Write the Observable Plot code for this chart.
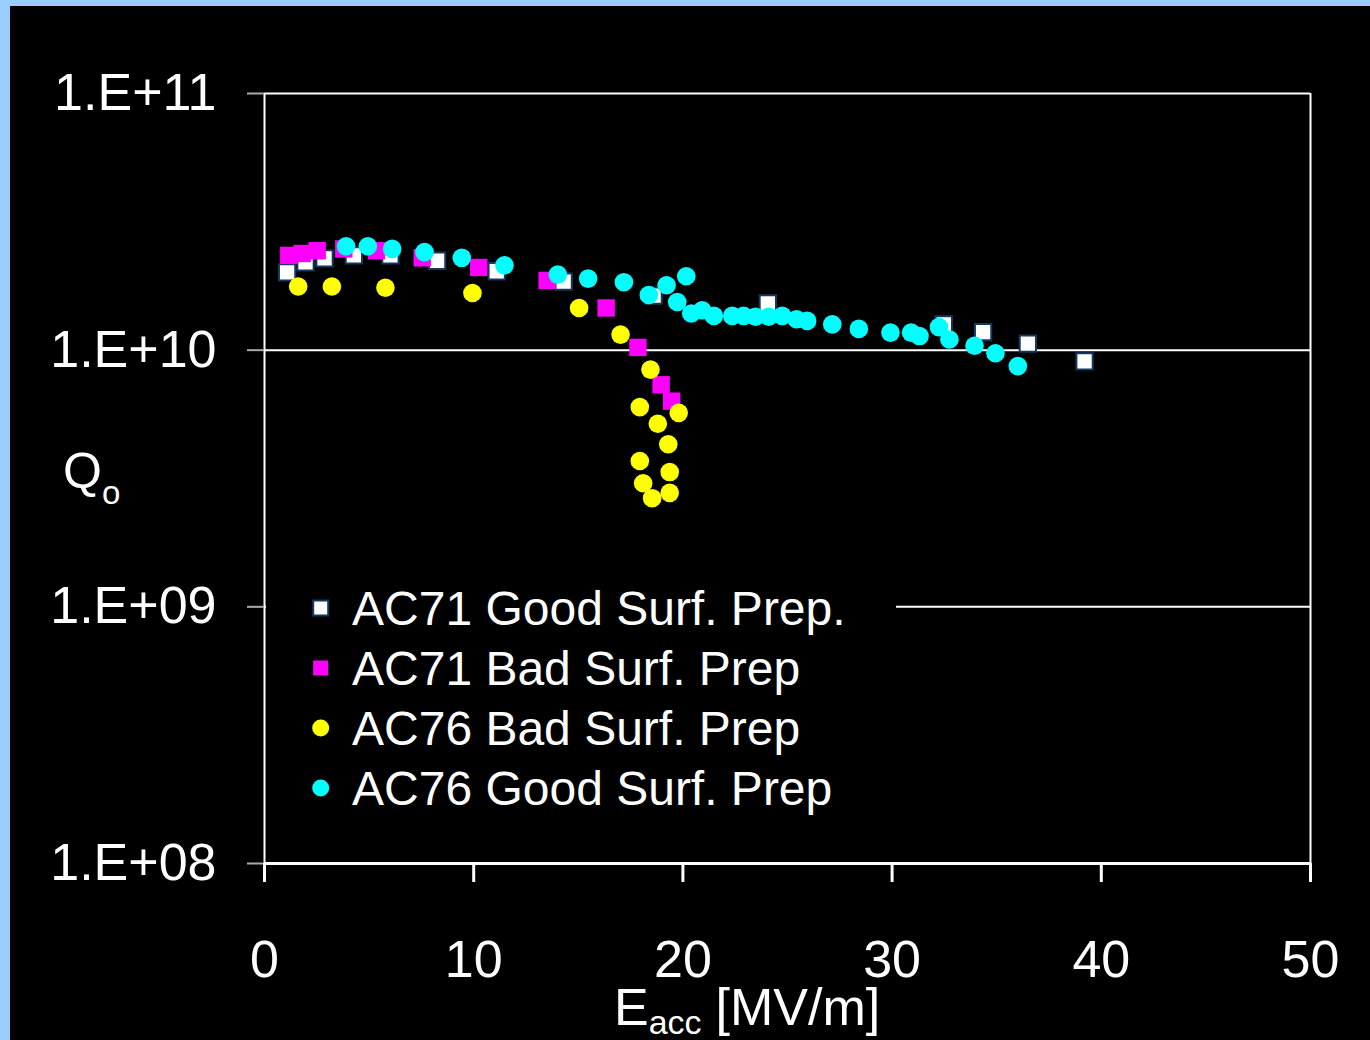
<!DOCTYPE html>
<html>
<head>
<meta charset="utf-8">
<script src="https://cdn.jsdelivr.net/npm/d3@7"></script>
<script src="https://cdn.jsdelivr.net/npm/@observablehq/plot@0.6"></script>
<style>
  html, body { margin: 0; padding: 0; background: #99ccff; width: 1370px; height: 1040px; overflow: hidden; }
  #chart { position: absolute; left: 10px; top: 6px; width: 1360px; height: 1034px; background: #000; overflow: hidden; }
  #chart svg { overflow: hidden; }
</style>
</head>
<body>
<div id="chart"></div>
<script>
// ---- data ----
const xTicks = [0, 10, 20, 30, 40, 50];
const yTicks = [1e8, 1e9, 1e10, 1e11];
const yTickLabels = ["1.E+08", "1.E+09", "1.E+10", "1.E+11"];
const seriesNames = ["AC71 Good Surf. Prep.", "AC71 Bad Surf. Prep", "AC76 Bad Surf. Prep", "AC76 Good Surf. Prep"];

const ac71GoodE = [1.08, 1.96, 2.87, 4.27, 6.02, 8.25, 11.1, 14.3, 18.6, 24.06, 32.47, 34.35, 36.49, 39.2];
const ac71GoodQ = [2.01e10, 2.2e10, 2.28e10, 2.34e10, 2.34e10, 2.23e10, 2.03e10, 1.85e10, 1.63e10, 1.52e10, 1.26e10, 1.175e10, 1.06e10, 9.04e9];

const ac71BadE = [1.16, 1.8, 2.52, 3.79, 5.35, 7.54, 10.24, 13.51, 16.33, 17.85, 18.96, 19.46];
const ac71BadQ = [2.34e10, 2.38e10, 2.44e10, 2.48e10, 2.44e10, 2.29e10, 2.1e10, 1.87e10, 1.46e10, 1.025e10, 7.33e9, 6.33e9];

const ac76BadE = [1.61, 3.22, 5.78, 9.94, 15.04, 17.02, 18.45, 17.94, 19.8, 18.8, 19.3, 17.94, 19.37, 18.1, 19.37, 18.53];
const ac76BadQ = [1.77e10, 1.77e10, 1.75e10, 1.67e10, 1.46e10, 1.15e10, 8.4e9, 6.0e9, 5.7e9, 5.17e9, 4.3e9, 3.7e9, 3.35e9, 3.03e9, 2.78e9, 2.65e9];

const ac76GoodE = [3.9, 4.94, 6.1, 7.65, 9.43, 11.47, 14.02, 15.47, 17.18, 18.37, 19.22, 20.16, 19.73, 20.4, 20.92, 21.48, 22.36, 22.9, 23.47, 24.1, 24.75, 25.43, 25.94, 27.14, 28.41, 29.92, 30.91, 31.31, 32.24, 32.74, 33.94, 34.94, 36.01];
const ac76GoodQ = [2.54e10, 2.54e10, 2.48e10, 2.41e10, 2.29e10, 2.14e10, 1.97e10, 1.9e10, 1.84e10, 1.64e10, 1.79e10, 1.94e10, 1.54e10, 1.39e10, 1.43e10, 1.36e10, 1.36e10, 1.36e10, 1.35e10, 1.35e10, 1.36e10, 1.32e10, 1.3e10, 1.26e10, 1.21e10, 1.17e10, 1.17e10, 1.135e10, 1.23e10, 1.1e10, 1.04e10, 9.73e9, 8.67e9];

const toRows = (E, Q) => E.map((e, i) => ({E: e, Q: Q[i]}));
const font = "'Liberation Sans', Arial, sans-serif";

const plot = Plot.plot({
  width: 1360,
  height: 1034,
  marginLeft: 254,
  marginRight: 60,
  marginTop: 87,
  marginBottom: 177,
  style: {background: "#000", color: "#fff", fontFamily: font},
  x: {domain: [0, 50]},
  y: {type: "log", domain: [1e8, 1e11]},
  marks: [
    Plot.ruleY([1e9, 1e10, 1e11], {stroke: "#fff", strokeWidth: 2}),
    Plot.ruleX([50], {stroke: "#fff", strokeWidth: 2}),
    Plot.ruleX([0], {stroke: "#fff", strokeWidth: 2}),
    Plot.axisY({ticks: yTicks, tickFormat: d => yTickLabels[yTicks.indexOf(d)], tickSize: 17, tickPadding: 31, fontSize: 52, stroke: "#aaa", strokeWidth: 2, label: null}),
    Plot.axisX({ticks: xTicks, tickSize: 19, tickPadding: 58, fontSize: 52, stroke: "#fff", strokeWidth: 3, label: null}),
    Plot.ruleY([1e8], {stroke: "#fff", strokeWidth: 3}),
    Plot.dot(toRows(ac71GoodE, ac71GoodQ), {x: "E", y: "Q", symbol: "square", r: 9.2, fill: "#fff", stroke: "#17375e", strokeWidth: 2}),
    Plot.dot(toRows(ac71BadE, ac71BadQ), {x: "E", y: "Q", symbol: "square", r: 9.8, fill: "#ff00ff", stroke: "none"}),
    Plot.dot(toRows(ac76BadE, ac76BadQ), {x: "E", y: "Q", symbol: "circle", r: 9.3, fill: "#ffff00", stroke: "none"}),
    Plot.dot(toRows(ac76GoodE, ac76GoodQ), {x: "E", y: "Q", symbol: "circle", r: 9.3, fill: "#00ffff", stroke: "none"})
  ]
});

document.getElementById("chart").appendChild(plot);
const svg = d3.select(plot);

// Y label: Q_o
const ql = svg.append("text").attr("x", 53).attr("y", 482).attr("fill", "#fff")
  .attr("text-anchor", "start")
  .style("font-family", font).style("font-size", "50px");
ql.append("tspan").text("Q");
ql.append("tspan").attr("y", 498).style("font-size", "33px").text("o");

// X label: E_acc [MV/m]
const xl = svg.append("text").attr("x", 604).attr("y", 1019).attr("fill", "#fff")
  .attr("text-anchor", "start")
  .style("font-family", font).style("font-size", "52px");
xl.append("tspan").text("E");
xl.append("tspan").attr("y", 1028).style("font-size", "34px").text("acc");
xl.append("tspan").attr("y", 1019).attr("dx", 14).text("[MV/m]");

// Legend
const lg = svg.append("g").attr("text-anchor", "start");
lg.append("rect").attr("x", 256).attr("y", 562).attr("width", 630).attr("height", 254).attr("fill", "#000");
const legendStyles = [
  {type: "square", fill: "#fff", stroke: "#17375e"},
  {type: "square", fill: "#ff00ff", stroke: "none"},
  {type: "circle", fill: "#ffff00", stroke: "none"},
  {type: "circle", fill: "#00ffff", stroke: "none"}
];
seriesNames.forEach((name, i) => {
  const cy = 602 + 60 * i;
  const st = legendStyles[i];
  if (st.type === "square") {
    lg.append("rect").attr("x", 310.7 - 7.5).attr("y", cy - 7.5).attr("width", 15).attr("height", 15)
      .attr("fill", st.fill).attr("stroke", st.stroke).attr("stroke-width", 2);
  } else {
    lg.append("circle").attr("cx", 310.7).attr("cy", cy).attr("r", 8.5).attr("fill", st.fill);
  }
  lg.append("text").attr("x", 342).attr("y", cy + 17).attr("fill", "#fff")
    .attr("text-anchor", "start")
    .style("font-family", font).style("font-size", "48px").text(name);
});
</script>
</body>
</html>
